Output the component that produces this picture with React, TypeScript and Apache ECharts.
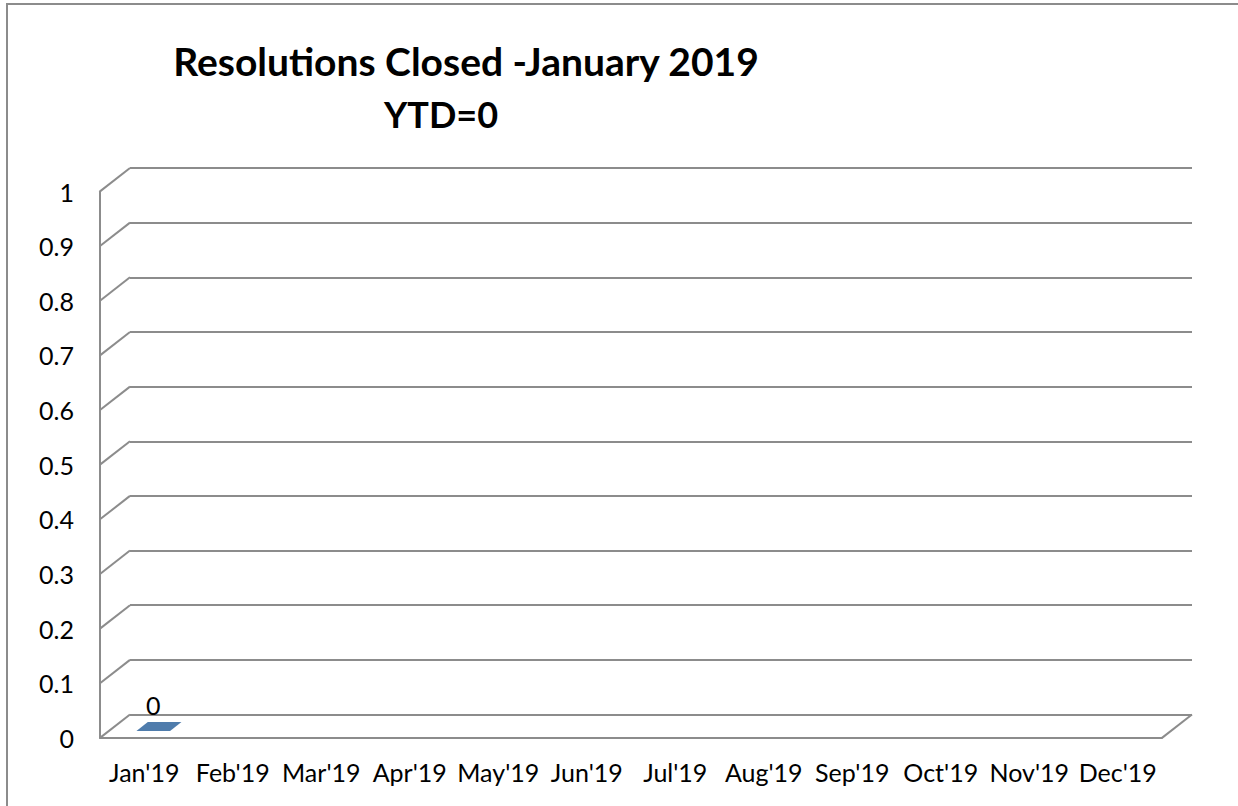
import React, { useEffect, useRef } from 'react';
import * as echarts from 'echarts';

const categories = ["Jan'19", "Feb'19", "Mar'19", "Apr'19", "May'19", "Jun'19", "Jul'19", "Aug'19", "Sep'19", "Oct'19", "Nov'19", "Dec'19"];
const resolutionsClosed: (number | null)[] = [0, null, null, null, null, null, null, null, null, null, null, null];
const yTicks = [0, 0.1, 0.2, 0.3, 0.4, 0.5, 0.6, 0.7, 0.8, 0.9, 1];
const titleLine1 = 'Resolutions Closed -January 2019';
const titleLine2 = 'YTD=0';

const GRAY = '#8c8c8c';
const DX = 30;
const DY = 23.4;
const FONT = 'Lato, "Open Sans", sans-serif';

export default function App() {
  const ref = useRef<HTMLDivElement>(null);
  useEffect(() => {
    if (!ref.current) return;
    const chart = echarts.init(ref.current, null, { renderer: 'svg' });
    const barData = resolutionsClosed
      .map((v, i) => (v === null ? null : [i, v]))
      .filter((d) => d !== null);
    const option: any = {
      animation: false,
      backgroundColor: '#fff',
      graphic: [
        { type: 'rect', shape: { x: 7, y: 4, width: 1300, height: 900 }, style: { fill: 'none', stroke: GRAY, lineWidth: 2 }, silent: true },
        { type: 'text', x: 466, y: 61, style: { text: titleLine1, font: `bold 39px ${FONT}`, fill: '#000', textAlign: 'center', textVerticalAlign: 'middle' } },
        { type: 'text', x: 441, y: 114, style: { text: titleLine2, font: `bold 36px ${FONT}`, fill: '#000', textAlign: 'center', textVerticalAlign: 'middle' } },
      ],
      grid: [
        { left: 100, right: 76, top: 191.5, bottom: 68 },
        { left: 130, right: 46, top: 168, bottom: 91.5 },
      ],
      xAxis: [
        {
          gridIndex: 0, type: 'category', data: categories,
          axisLine: { show: true, lineStyle: { color: GRAY, width: 2 } },
          axisTick: { show: false },
          axisLabel: { interval: 0, color: '#000', fontSize: 25, fontFamily: FONT, margin: 21 },
        },
        { gridIndex: 1, type: 'category', data: categories, show: false },
      ],
      yAxis: [
        {
          gridIndex: 0, type: 'value', min: 0, max: 1, interval: 0.1,
          axisLine: { show: true, lineStyle: { color: GRAY, width: 2 } },
          axisTick: { show: false },
          splitLine: { show: false },
          axisLabel: { color: '#000', fontSize: 25, fontFamily: FONT, margin: 26 },
        },
        {
          gridIndex: 1, type: 'value', min: 0, max: 1, interval: 0.1,
          axisLine: { show: false }, axisTick: { show: false }, axisLabel: { show: false },
          splitLine: { show: true, lineStyle: { color: GRAY, width: 2 } },
        },
      ],
      series: [
        {
          type: 'custom',
          xAxisIndex: 1, yAxisIndex: 1,
          silent: true,
          data: yTicks.map((v) => [0, v]),
          renderItem: (params: any, api: any) => {
            const cs = params.coordSys;
            const v = api.value(1);
            const y = api.coord([0, v])[1];
            const children: any[] = [
              { type: 'line', shape: { x1: cs.x, y1: y, x2: cs.x - DX, y2: y + DY }, style: { stroke: GRAY, lineWidth: 2 } },
            ];
            if (v === 0) {
              children.push({ type: 'line', shape: { x1: cs.x + cs.width, y1: y, x2: cs.x + cs.width - DX, y2: y + DY }, style: { stroke: GRAY, lineWidth: 2 } });
            }
            return { type: 'group', children };
          },
        },
        {
          type: 'custom',
          xAxisIndex: 1, yAxisIndex: 1,
          silent: true,
          data: barData,
          renderItem: (params: any, api: any) => {
            const idx = api.value(0);
            const v = api.value(1);
            const top = api.coord([idx, v]);
            const base = api.coord([idx, 0]);
            const hw = api.size([1, 0])[0] * 0.19;
            const f1 = 0.32, f2 = 0.7;
            const bx = -DX * f1, by = DY * f1;
            const fx = -DX * f2, fy = DY * f2;
            const color = '#4f7cac';
            const topFace = [
              [top[0] - hw + bx, top[1] + by],
              [top[0] + hw + bx, top[1] + by],
              [top[0] + hw + fx, top[1] + fy],
              [top[0] - hw + fx, top[1] + fy],
            ];
            const children: any[] = [];
            if (base[1] - top[1] > 0.5) {
              children.push({ type: 'polygon', shape: { points: [
                [top[0] - hw + fx, top[1] + fy], [top[0] + hw + fx, top[1] + fy],
                [base[0] + hw + fx, base[1] + fy], [base[0] - hw + fx, base[1] + fy]] }, style: { fill: color } });
              children.push({ type: 'polygon', shape: { points: [
                [top[0] + hw + bx, top[1] + by], [top[0] + hw + fx, top[1] + fy],
                [base[0] + hw + fx, base[1] + fy], [base[0] + hw + bx, base[1] + by]] }, style: { fill: '#3d6592' } });
            }
            children.push({ type: 'polygon', shape: { points: topFace }, style: { fill: color } });
            children.push({
              type: 'text', x: top[0] + fx, y: top[1] + fy - 13,
              style: { text: String(v), font: `25px ${FONT}`, fill: '#000', textAlign: 'center', textVerticalAlign: 'bottom' },
            });
            return { type: 'group', children };
          },
        },
      ],
    };
    chart.setOption(option);
    return () => chart.dispose();
  }, []);
  return <div ref={ref} style={{ position: 'absolute', left: 0, top: 0, width: 1238, height: 806 }} />;
}
